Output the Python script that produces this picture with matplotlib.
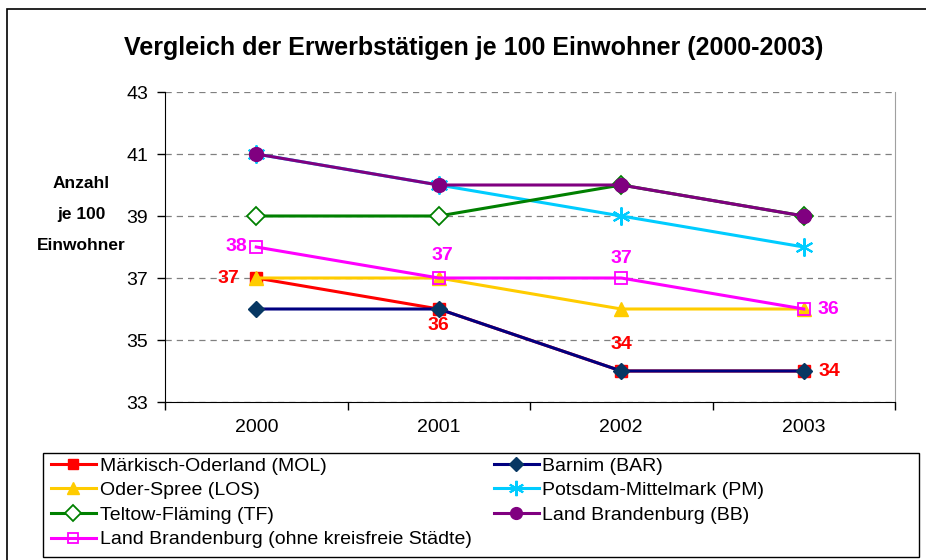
import matplotlib.pyplot as plt
from matplotlib.patches import Rectangle

years = ['2000', '2001', '2002', '2003']
mol = [37, 36, 34, 34]
bar = [36, 36, 34, 34]
los = [37, 37, 36, 36]
pm = [41, 40, 39, 38]
tf = [39, 39, 40, 39]
bb = [41, 40, 40, 39]
bb_ohne = [38, 37, 37, 36]

plt.rcParams['font.family'] = ['Liberation Sans', 'DejaVu Sans']

W, H = 926, 560
fig = plt.figure(figsize=(W / 100, H / 100), dpi=100)

# plot area in pixels: x 165..895, y 92..402
ax = fig.add_axes([165 / W, 1 - 402 / H, (895 - 165) / W, (402 - 92) / H])

x = range(len(years))
ax.plot(x, mol, color='#ff0000', lw=2.2, marker='s', ms=9, label='Märkisch-Oderland (MOL)', zorder=3)
ax.plot(x, bar, color='#000080', lw=2.2, marker='D', ms=8, mfc='#073763', mec='#073763',
        label='Barnim (BAR)', zorder=4)
ax.plot(x, los, color='#ffcc00', lw=2.2, marker='^', ms=10, label='Oder-Spree (LOS)', zorder=5)
ax.plot(x, pm, color='#00ccff', lw=2.2, marker=(6, 2, 0), ms=13, mew=1.5,
        label='Potsdam-Mittelmark (PM)', zorder=6)
ax.plot(x, tf, color='#008000', lw=2.2, marker='D', ms=9, mfc='white', mew=1.3,
        label='Teltow-Fläming (TF)', zorder=7)
ax.plot(x, bb, color='#800080', lw=2.2, marker='o', ms=10, label='Land Brandenburg (BB)', zorder=8)
ax.plot(x, bb_ohne, color='#ff00ff', lw=2.2, marker='s', ms=9, mfc='none', mew=1.3,
        label='Land Brandenburg (ohne kreisfreie Städte)', zorder=9)

# data labels (offsets in pixels)
red_off = [(-28, 0), (0, -16), (0, 27), (26, 0)]
mag_off = [(-20, 1), (4, 23), (0, 20), (25, 0)]
for i in x:
    ax.annotate(str(mol[i]), (i, mol[i]), xytext=red_off[i], textcoords='offset pixels',
                ha='center', va='center', color='#ff0000', fontsize=14, fontweight='bold', zorder=10)
    ax.annotate(str(bb_ohne[i]), (i, bb_ohne[i]), xytext=mag_off[i], textcoords='offset pixels',
                ha='center', va='center', color='#ff00ff', fontsize=14, fontweight='bold', zorder=10)

ax.set_xlim(-0.5, 3.5)
ax.set_ylim(33, 43)
ax.set_yticks([33, 35, 37, 39, 41, 43])
ax.set_xticks(list(x))
ax.set_xticklabels(years)
ax.set_xticks([-0.5, 0.5, 1.5, 2.5, 3.5], minor=True)
ax.tick_params(axis='x', which='major', length=0, pad=12, labelsize=14)
ax.tick_params(axis='x', which='minor', length=6, width=1, direction='out')
ax.tick_params(axis='y', length=6, width=1, direction='out', pad=6, labelsize=14)
ax.grid(axis='y', color='#808080', ls=(0, (5, 4)), lw=0.9)
ax.spines['top'].set_visible(False)
ax.spines['right'].set_color('#a0a0a0')
ax.spines['left'].set_color('black')
ax.spines['bottom'].set_color('black')

fig.text(474 / W, 1 - 48 / H, 'Vergleich der Erwerbstätigen je 100 Einwohner (2000-2003)',
         ha='center', va='center', fontsize=18, fontweight='bold')
for txt, yp in zip(['Anzahl', 'je 100', 'Einwohner'], [183, 214, 245]):
    fig.text(81 / W, 1 - yp / H, txt, ha='center', va='center', fontsize=12.5, fontweight='bold')

# legend and its box
h, l = ax.get_legend_handles_labels()
order = [0, 2, 4, 6, 1, 3, 5]
fig.legend([h[i] for i in order], [l[i] for i in order], ncol=2, frameon=False,
           loc='upper left', bbox_to_anchor=(51 / W, 1 - 457 / H), fontsize=14,
           handlelength=2.3, handletextpad=0.2, columnspacing=1.15, labelspacing=0.36,
           borderaxespad=0, borderpad=0.0, markerscale=0.85)
fig.add_artist(Rectangle((43 / W, 1 - 557 / H), (919 - 43) / W, (557 - 453) / H,
                         transform=fig.transFigure, fill=False, ec='black', lw=1))
# outer chart border (only left and top visible)
fig.add_artist(Rectangle((7 / W, 1 - 570 / H), (940 - 7) / W, (570 - 9) / H,
                         transform=fig.transFigure, fill=False, ec='black', lw=1.2))

plt.savefig('out.png', dpi=100)
